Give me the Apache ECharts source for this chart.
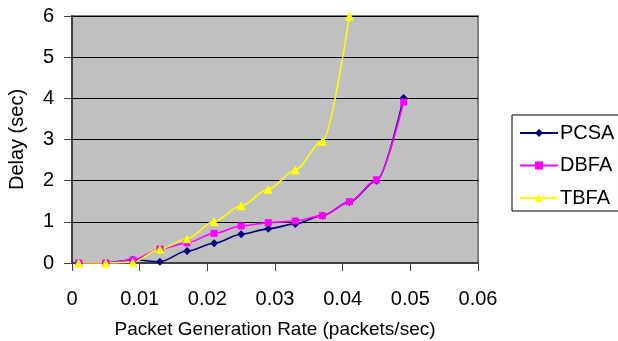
<!DOCTYPE html>
<html>
<head>
<meta charset="utf-8">
<script src="https://cdn.jsdelivr.net/npm/echarts@6/dist/echarts.min.js"></script>
<style>html,body{margin:0;padding:0;background:#fff}#c{width:618px;height:341px}</style>
</head>
<body>
<div id="c"></div>
<script>
const rates = [0.001, 0.005, 0.009, 0.013, 0.017, 0.021, 0.025, 0.029, 0.033, 0.037, 0.041, 0.045, 0.049];
const pcsa = [0, 0, 0.08, 0.03, 0.29, 0.48, 0.70, 0.83, 0.95, 1.15, 1.48, 2.00, 4.01];
const dbfa = [0, 0, 0.07, 0.34, 0.49, 0.72, 0.90, 0.98, 1.02, 1.15, 1.49, 2.02, 3.91];
const tbfa = [0, 0, 0.02, 0.34, 0.59, 1.01, 1.39, 1.79, 2.26, 2.96, 6.00];
const xTicks = [0, 0.01, 0.02, 0.03, 0.04, 0.05, 0.06];
const yTicks = [0, 1, 2, 3, 4, 5, 6];
const seriesNames = ['PCSA', 'DBFA', 'TBFA'];

const pair = (xs, ys) => ys.map((v, i) => [xs[i], v]);
const FONT = '"Liberation Sans", Arial, sans-serif';
const chart = echarts.init(document.getElementById('c'));
const mk = (name, data, color, symbol, size) => ({
  name, type: 'line', data: pair(rates, data), smooth: 0.3, smoothMonotone: 'x',
  symbol, symbolSize: size, showSymbol: true,
  lineStyle: { color, width: 1.6 }, itemStyle: { color },
  emphasis: { disabled: true }
});
chart.setOption({
  animation: false,
  textStyle: { fontFamily: FONT },
  grid: { left: 72, top: 16, right: 140, bottom: 78, outerBoundsMode: 'none', containLabel: false,
          show: true, backgroundColor: '#C0C0C0', borderColor: '#808080', borderWidth: 2 },
  legend: {
    orient: 'vertical', left: 512, top: 115, width: 106,
    data: seriesNames,
    backgroundColor: '#fff', borderColor: '#000', borderWidth: 1,
    padding: [7, 4, 2, 7], itemWidth: 38, itemHeight: 10, itemGap: 10.5,
    textStyle: { fontFamily: FONT, fontSize: 20, lineHeight: 22, color: '#000', padding: [0, 0, 0, -3] }
  },
  xAxis: {
    type: 'value', min: xTicks[0], max: xTicks[xTicks.length - 1], interval: 0.01,
    name: 'Packet Generation Rate (packets/sec)', nameLocation: 'middle', nameGap: 57,
    nameTextStyle: { fontFamily: FONT, fontSize: 19, color: '#000' },
    axisLine: { lineStyle: { color: '#404040', width: 2 } },
    axisTick: { show: true, length: 8, lineStyle: { color: '#404040' } },
    axisLabel: { fontFamily: FONT, fontSize: 20, color: '#000', margin: 26, formatter: v => String(+v.toFixed(2)) },
    splitLine: { show: false }
  },
  yAxis: {
    type: 'value', min: yTicks[0], max: yTicks[yTicks.length - 1], interval: 1,
    name: 'Delay (sec)', nameLocation: 'middle', nameGap: 45, nameRotate: 90,
    nameTextStyle: { fontFamily: FONT, fontSize: 20, color: '#000' },
    axisLine: { show: true, lineStyle: { color: '#404040', width: 2 } },
    axisTick: { show: true, length: 8, lineStyle: { color: '#404040' } },
    axisLabel: { fontFamily: FONT, fontSize: 20, color: '#000', margin: 18 },
    splitLine: { show: true, lineStyle: { color: '#000', width: 1 } }
  },
  series: [
    mk('PCSA', pcsa, '#000080', 'diamond', 8),
    mk('DBFA', dbfa, '#FF00FF', 'rect', 7),
    mk('TBFA', tbfa, '#FFFF00', 'triangle', 9)
  ]
});
</script>
</body>
</html>
